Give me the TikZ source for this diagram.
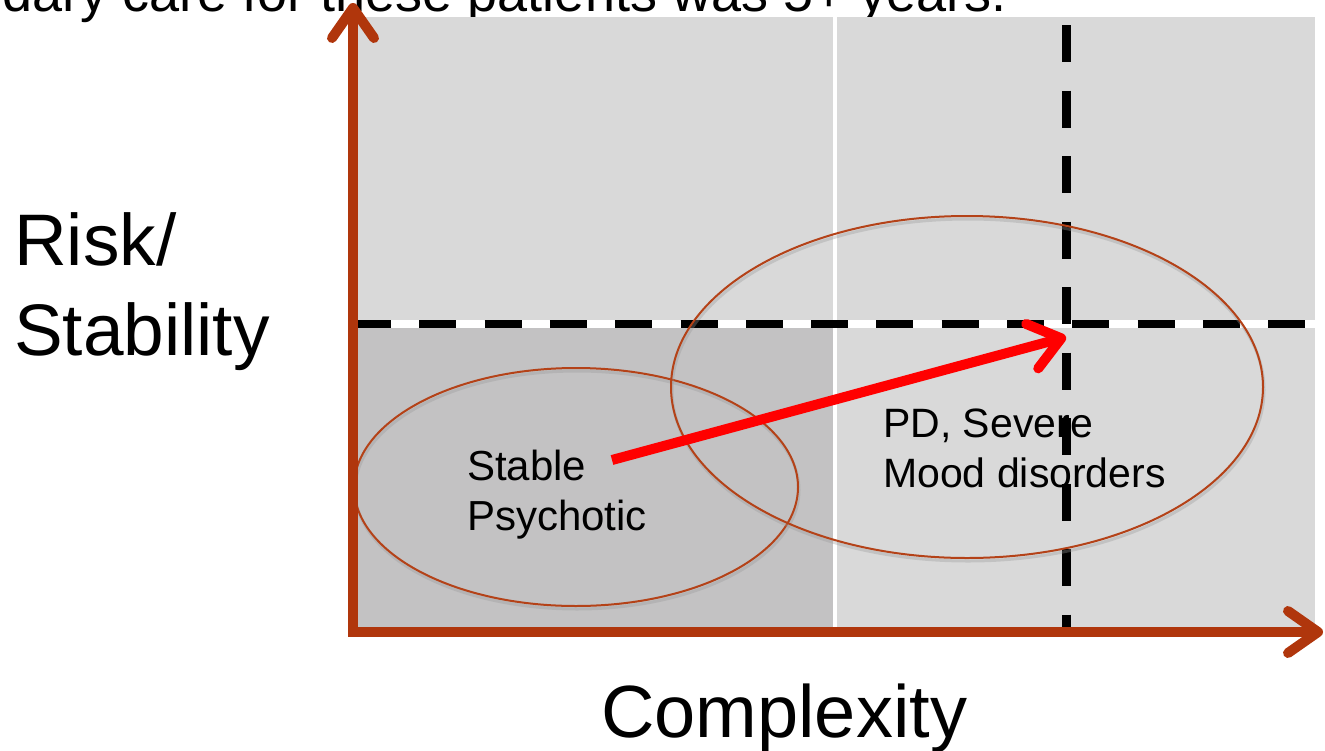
\documentclass[tikz,border=0pt]{standalone}
\usepackage{fontspec}
\setmainfont{Liberation Sans}
\usetikzlibrary{arrows.meta, shapes}

\definecolor{axisbrown}{RGB}{176,54,12}
\definecolor{ringbrown}{RGB}{180,66,24}
\definecolor{lightgrey}{RGB}{217,217,217}
\definecolor{darkgrey}{RGB}{195,194,195}

\begin{document}
\begin{tikzpicture}[x=1pt, y=-1pt, >=latex]
		\tikzstyle{ring} = [draw=ringbrown, line width=2pt, ellipse, inner sep=0pt, preaction={draw=black!40, opacity=.35, line width=3pt, transform canvas={shift={(1pt,-3pt)}}}]
		\tikzstyle{lbl} = [inner sep=0pt, align=left, anchor=base west]
		\tikzstyle{dashline} = [line width=8pt, dash pattern=on 37pt off 28.3pt]
		\tikzstyle{axis} = [line width=10pt, axisbrown, {Straight Barb[length=30pt, width=42pt, round]}-{Straight Barb[length=30pt, width=42pt, round]}]
		\tikzstyle{trend} = [line width=10pt, red, -{Straight Barb[length=30pt, width=46pt, round]}]
		
		\useasboundingbox (0,0) rectangle (1325,750);
		\clip (0,0) rectangle (1325,750);
		
		\node[lbl, anchor=base east, font=\fontsize{54}{60}\selectfont] at (1007,11) (note) {ndary care for these patients was 5+ years.};
		
		% quadrants
		\fill[lightgrey] (354,17) rectangle (833,324);
		\fill[lightgrey] (837,17) rectangle (1315,324);
		\fill[darkgrey] (354,324) rectangle (833,632);
		\fill[lightgrey] (837,324) rectangle (1315,632);
		
		% thresholds
		\draw[white, line width=8pt] (354,324) -- (1315,324);
		\draw[dashline] (354,324) -- (1315,324);
		\draw[dashline, line width=9pt, dash pattern=on 37pt off 28.5pt] (1066.5,25) -- (1066.5,632);
		
		\node[ring, minimum width=444pt, minimum height=238pt] at (576,487) (stable) {};
		\node[ring, minimum width=592pt, minimum height=342pt] at (967,387) (severe) {};
		
		% base anchor of a two line node sits on the last line
		\node[lbl, font=\fontsize{42}{50}\selectfont] 	at (467,530) 	(stabletxt) 	{Stable\\Psychotic};
		\node[lbl, font=\fontsize{41}{50}\selectfont] 	at (883,487) 	(severetxt) 	{PD, Severe\\Mood disorders};
		\node[lbl, font=\fontsize{73}{90}\selectfont] 	at (14,355) 	(ylab) 		{Risk/\\Stability};
		\node[lbl, font=\fontsize{74}{80}\selectfont] 	at (601,737) 	(xlab) 		{Complexity};
		
		\coordinate (from) at (612,460);
		\coordinate (to) at (1066,337);
		\draw[trend] (from) -- (to);
		
		\coordinate (ytop) at (353,3);
		\coordinate (origin) at (353,632);
		\coordinate (xend) at (1323,632);
		\draw[axis] (ytop) -- (origin) -- (xend);
	\end{tikzpicture}
\end{document}
